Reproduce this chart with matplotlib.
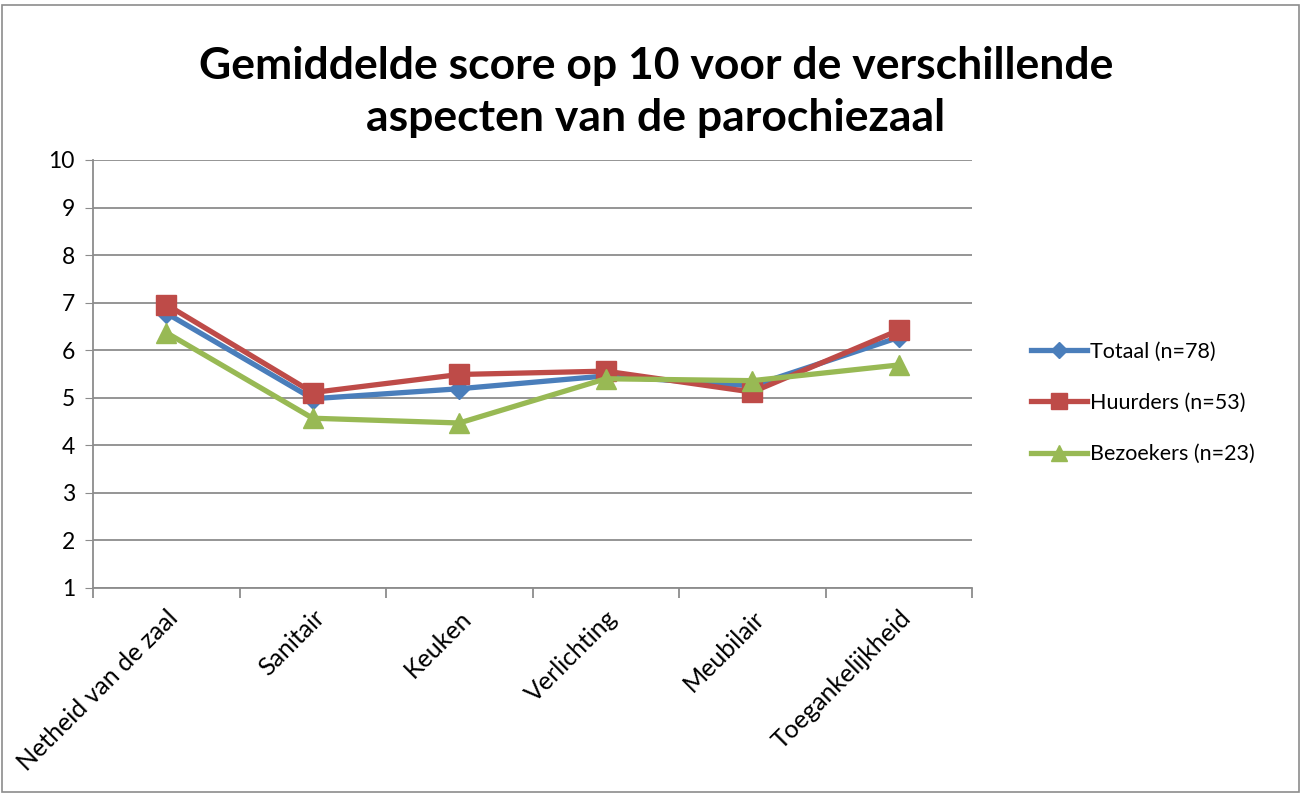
import matplotlib
matplotlib.use("Agg")
import matplotlib.pyplot as plt
from matplotlib.patches import Rectangle
from matplotlib.ticker import FixedLocator, NullFormatter

categories = ["Netheid van de zaal", "Sanitair", "Keuken", "Verlichting", "Meubilair", "Toegankelijkheid"]
totaal = [6.78, 4.98, 5.19, 5.46, 5.25, 6.27]
huurders = [6.96, 5.11, 5.49, 5.56, 5.12, 6.42]
bezoekers = [6.37, 4.57, 4.47, 5.40, 5.36, 5.69]
series_labels = ["Totaal (n=78)", "Huurders (n=53)", "Bezoekers (n=23)"]
title = "Gemiddelde score op 10 voor de verschillende\naspecten van de parochiezaal"

plt.rcParams['font.family'] = ['Lato', 'DejaVu Sans']

fig = plt.figure(figsize=(13.04, 7.94), dpi=100)
W, H = 1304, 794
ax = fig.add_axes([93 / W, 1 - 588 / H, (972 - 93) / W, (588 - 160) / H])

x = list(range(len(categories)))
colors = ["#4A7EBB", "#BE4B48", "#98B954"]
markers = ["D", "s", "^"]
msizes = [10, 14, 15]
for vals, c, m, ms, lab in zip([totaal, huurders, bezoekers], colors, markers, msizes, series_labels):
    ax.plot(x, vals, color=c, lw=3.8, marker=m, markersize=ms, markeredgecolor=c,
            label=lab, solid_joinstyle='round')

ax.set_xlim(-0.5, len(categories) - 0.5)
ax.set_ylim(1, 10)
ax.set_yticks(range(1, 11))
ax.yaxis.grid(True, color="#8C8C8C", lw=1.3)
ax.set_axisbelow(True)
for s in ["top", "right"]:
    ax.spines[s].set_visible(False)
for s in ["left", "bottom"]:
    ax.spines[s].set_color("#8C8C8C")
    ax.spines[s].set_linewidth(1.3)

ax.tick_params(axis='y', direction='out', length=6, color="#8C8C8C", labelsize=16.5, pad=7)
ax.set_xticks(x)
ax.set_xticklabels(categories, rotation=45, ha='right', va='top', rotation_mode='anchor', fontsize=18)
ax.tick_params(axis='x', length=0, pad=13)
ax.xaxis.set_minor_locator(FixedLocator([i - 0.5 for i in range(len(categories) + 1)]))
ax.xaxis.set_minor_formatter(NullFormatter())
ax.tick_params(axis='x', which='minor', direction='out', length=7, color="#8C8C8C", width=1.3)

fig.text(656 / W, 1 - 92 / H, title, ha='center', va='center',
         fontsize=32, fontweight='bold', linespacing=1.38)

leg = fig.legend(loc='center left', bbox_to_anchor=(1012 / W, 1 - 403 / H), frameon=False,
                 fontsize=15.5, labelspacing=1.45, handlelength=2.6, handletextpad=0.1,
                 markerscale=0.8)

fig.patches.append(Rectangle((2 / W, 2 / H), 1297 / W, 787 / H, transform=fig.transFigure,
                             fill=False, edgecolor="#8C8C8C", lw=1.2))

fig.savefig("out.png", dpi=100)
